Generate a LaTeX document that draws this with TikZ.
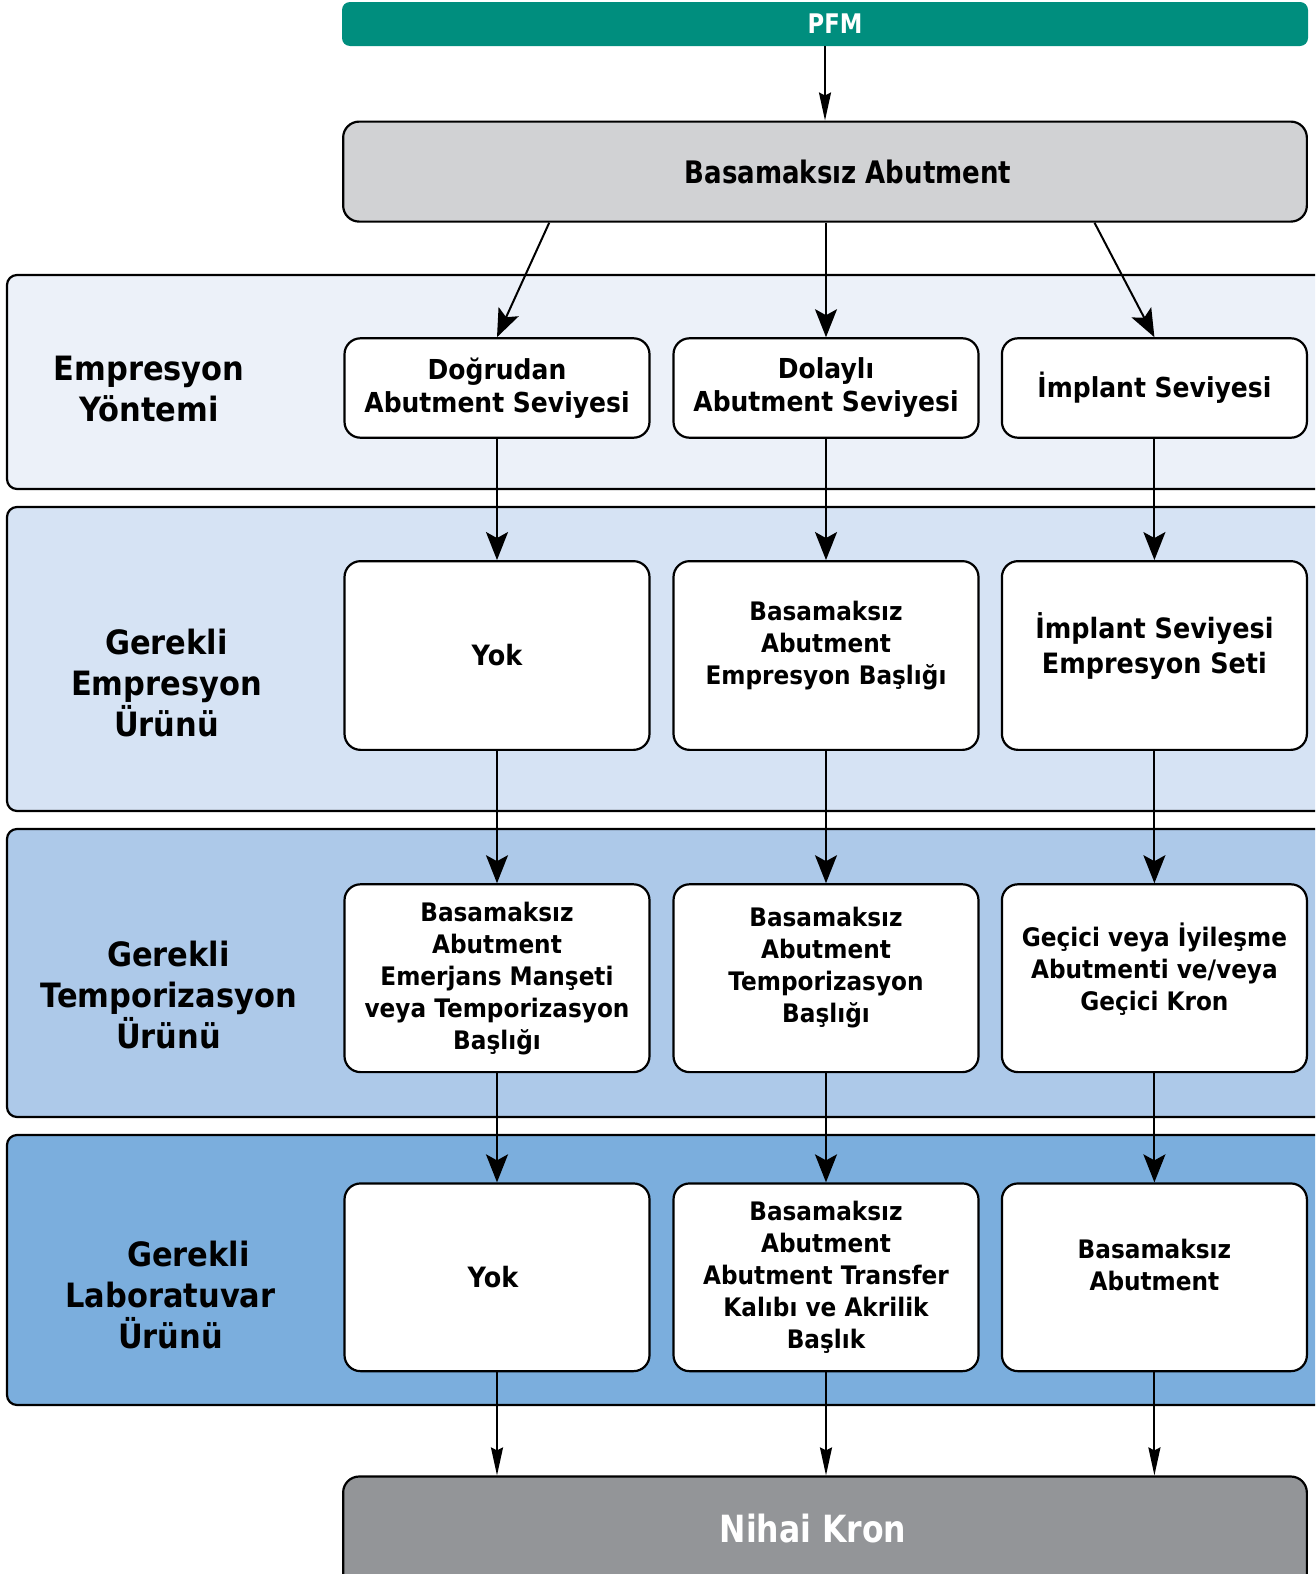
\documentclass[tikz,border=0pt]{standalone}
\usepackage{fontspec}
\setmainfont{DejaVu Sans}[FakeStretch=0.91]
\newfontfamily\condf{DejaVu Sans}[FakeStretch=0.84]
\usetikzlibrary{arrows.meta,calc}
\definecolor{tealc}{HTML}{008E7E}
\definecolor{topgray}{HTML}{D1D2D4}
\definecolor{bandA}{HTML}{ECF1F9}
\definecolor{bandB}{HTML}{D6E3F4}
\definecolor{bandC}{HTML}{ADC9E9}
\definecolor{bandD}{HTML}{7BAEDD}
\definecolor{finalgray}{HTML}{939598}
\begin{document}
\begin{tikzpicture}[x=1pt,y=-1pt,
  band/.style={draw=black,line width=2.2pt,rounded corners=10pt,minimum width=1333pt,inner sep=0pt},
  box/.style={draw=black,line width=2.2pt,rounded corners=16pt,fill=white,minimum width=305pt,inner sep=0pt,align=center,font=\bfseries\fontsize{25.5}{32}\selectfont},
  boxA/.style={box,minimum height=99.4pt,font=\bfseries\fontsize{27.5}{33}\selectfont},
  boxB/.style={box,minimum height=188.7pt},
  bigtext/.style={font=\bfseries\fontsize{28}{35}\selectfont},
  lbl/.style={align=center,font=\bfseries\fontsize{33.5}{41}\selectfont,inner sep=0pt},
  wide/.style={line width=2pt,-{Stealth[length=28pt,width=22pt,inset=6pt]}},
  narrow/.style={line width=2pt,-{Stealth[length=28pt,width=12pt,inset=3pt]}}
]
\clip (0,0) rectangle (1315,1574);
\useasboundingbox (0,0) rectangle (1315,1574);

% bands
\node[band,fill=bandA,minimum height=214pt] (b1) at (673.5,382) {};
\node[band,fill=bandB,minimum height=304pt] (b2) at (673.5,659) {};
\node[band,fill=bandC,minimum height=288pt] (b3) at (673.5,973) {};
\node[band,fill=bandD,minimum height=270pt] (b4) at (673.5,1270) {};

% band labels
\node[lbl] (l1) at (149,389.5) {Empresyon\\Yöntemi};
\node[lbl] (l2) at (166.5,683.5) {Gerekli\\Empresyon\\Ürünü};
\node[lbl] (l3) at (168.5,994.5) {Gerekli\\Temporizasyon\\Ürünü};
\node[lbl] (l4) at (170.5,1295) {\hspace*{36pt}Gerekli\\Laboratuvar\\Ürünü};

% top
\node[fill=tealc,rounded corners=8pt,minimum width=966pt,minimum height=44pt,inner sep=0pt,
      text=white,font=\condf\bfseries\fontsize{27}{27}\selectfont] (pfm) at (825,24) {\hspace*{20pt}PFM};
\node[draw=black,line width=2.2pt,fill=topgray,rounded corners=16pt,minimum width=963.7pt,minimum height=100pt,inner sep=0pt,
      font=\condf\bfseries\fontsize{31}{31}\selectfont] (top) at (825,171.6) {\hspace*{46pt}Basamaksız Abutment};

% row 1
\node[boxA] (r1a) at (497,388) {Doğrudan\\Abutment Seviyesi};
\node[boxA] (r1b) at (826,388) {Dolaylı\\Abutment Seviyesi};
\node[boxA] (r1c) at (1154.4,388) {İmplant Seviyesi};

% row 2
\node[boxB,bigtext] (r2a) at (497,655.5) {Yok};
\node[boxB] (r2b) at (826,655.5) {Basamaksız\\Abutment\\Empresyon Başlığı\\[-6pt]};
\node[boxB,bigtext] (r2c) at (1154.4,655.5) {İmplant Seviyesi\\Empresyon Seti\\[-10pt]};

% row 3
\node[boxB,minimum height=187.8pt] (r3a) at (497,978.2) {Basamaksız\\Abutment\\Emerjans Manşeti\\veya Temporizasyon\\Başlığı};
\node[boxB,minimum height=187.8pt] (r3b) at (826,978.2) {Basamaksız\\Abutment\\Temporizasyon\\Başlığı\\[-6pt]};
\node[boxB,minimum height=187.8pt] (r3c) at (1154.4,978.2) {Geçici veya İyileşme\\Abutmenti ve/veya\\Geçici Kron\\[-8pt]};

% row 4
\node[boxB,bigtext,minimum height=187.7pt] (r4a) at (497,1277.3) {\hspace*{-8pt}Yok};
\node[boxB,minimum height=187.7pt] (r4b) at (826,1277.3) {Basamaksız\\Abutment\\Abutment Transfer\\Kalıbı ve Akrilik\\Başlık};
\node[boxB,minimum height=187.7pt] (r4c) at (1154.4,1277.3) {Basamaksız\\Abutment\\[-6pt]};

% final
\node[draw=black,line width=2.2pt,fill=finalgray,rounded corners=16pt,minimum width=963.7pt,minimum height=143pt,inner sep=0pt] (nk) at (825,1548) {};
\node[text=white,font=\condf\bfseries\fontsize{37.5}{37.5}\selectfont,inner sep=0pt] (nkt) at (813,1529) {Nihai Kron};

% connectors
\draw[narrow] (pfm.south) -- (top.north);
\draw[wide] ($(top.south west)!0.2145!(top.south east)$) -- (r1a.north);
\draw[wide] (top.south -| r1b.north) -- (r1b.north);
\draw[wide] ($(top.south west)!0.779!(top.south east)$) -- (r1c.north);

\foreach \c in {a,b,c}{
  \draw[wide] (r1\c.south) -- (r2\c.north);
  \draw[wide] (r2\c.south) -- (r3\c.north);
  \draw[wide] (r3\c.south) -- (r4\c.north);
  \draw[narrow] (r4\c.south) -- (r4\c.south |- nk.north);
}
\end{tikzpicture}
\end{document}
